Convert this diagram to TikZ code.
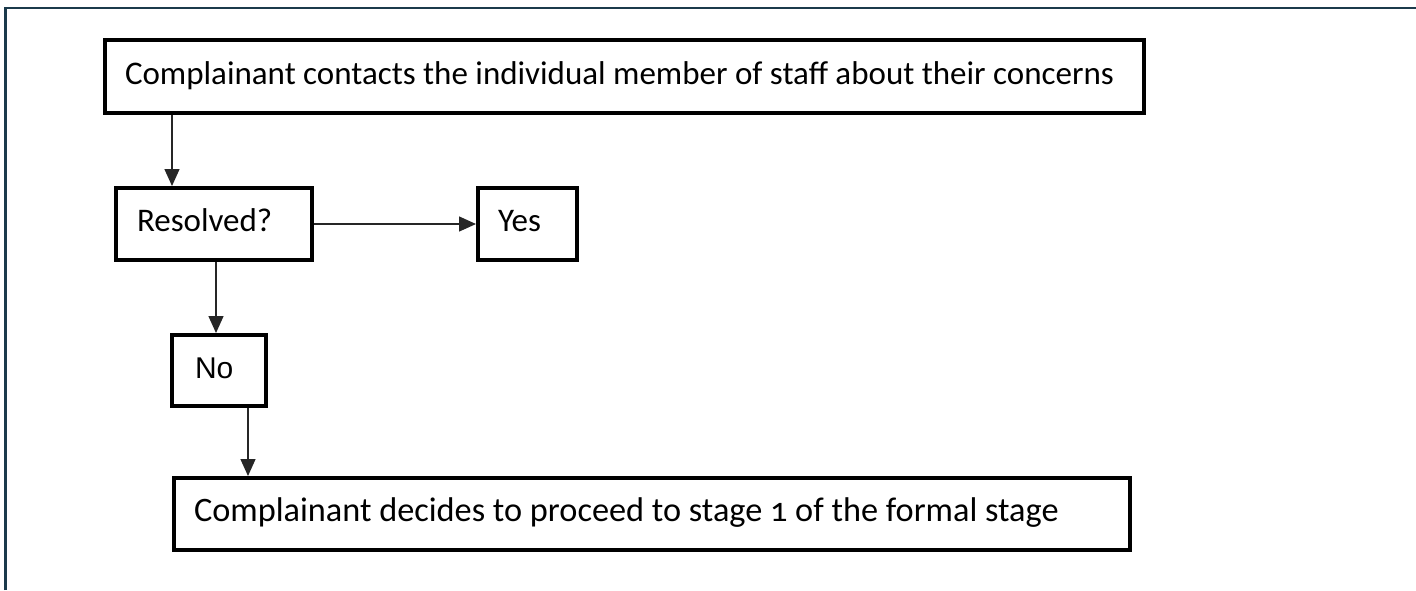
\documentclass[tikz,border=0pt]{standalone}
\usepackage{fontspec}
\setmainfont{Carlito}[Numbers=OldStyle]
\newfontfamily\arialfont{Liberation Sans}
\usetikzlibrary{arrows.meta}
\definecolor{framecol}{HTML}{1B3A4B}
\tikzset{
  box/.style={draw=black, line width=4pt, anchor=north west, inner ysep=0pt,
    font=\fontsize{33}{38}\selectfont, text height=22pt, text depth=7pt},
  arr/.style={draw=black!85, line width=1.4pt, -{Triangle[length=17pt,width=15pt]}},
}
\begin{document}
\begin{tikzpicture}[x=1pt,y=-1pt]
\useasboundingbox (0,0) rectangle (1416,590);
\fill[white] (0,0) rectangle (1416,590);
\draw[framecol, line width=2.5pt] (5.5,590) -- (5.5,8) -- (1416,8);

\node[box, minimum width=1039pt, minimum height=73pt, inner xsep=20pt] (b1) at (103,38)
  {\makebox[999pt][l]{Complainant contacts the individual member of staff about their concerns}};
\node[box, minimum width=196pt, minimum height=72pt, inner xsep=21pt] (res) at (114,186)
  {\makebox[154pt][l]{Resolved?}};
\node[box, minimum width=99pt, minimum height=72pt, inner xsep=20pt] (yes) at (476,186)
  {\makebox[59pt][l]{Yes}};
\node[box, minimum width=94pt, minimum height=71pt, inner xsep=23pt, font=\arialfont\fontsize{30}{35}\selectfont] (no) at (170,333)
  {\makebox[48pt][l]{No}};
\node[box, minimum width=956pt, minimum height=72pt, inner xsep=20pt, font=\fontsize{34.3}{40}\selectfont] (b3) at (172,476)
  {\makebox[916pt][l]{Complainant decides to proceed to stage 1 of the formal stage}};

\draw[arr] ([xshift=58pt]res.north west |- b1.south) -- ([xshift=58pt]res.north west);
\draw[arr] (res.east) -- (yes.west);
\draw[arr] ([xshift=102pt]res.south west) -- ([xshift=102pt]res.south west |- no.north);
\draw[arr] ([xshift=78pt]no.south west) -- ([xshift=78pt]no.south west |- b3.north);
\end{tikzpicture}
\end{document}
